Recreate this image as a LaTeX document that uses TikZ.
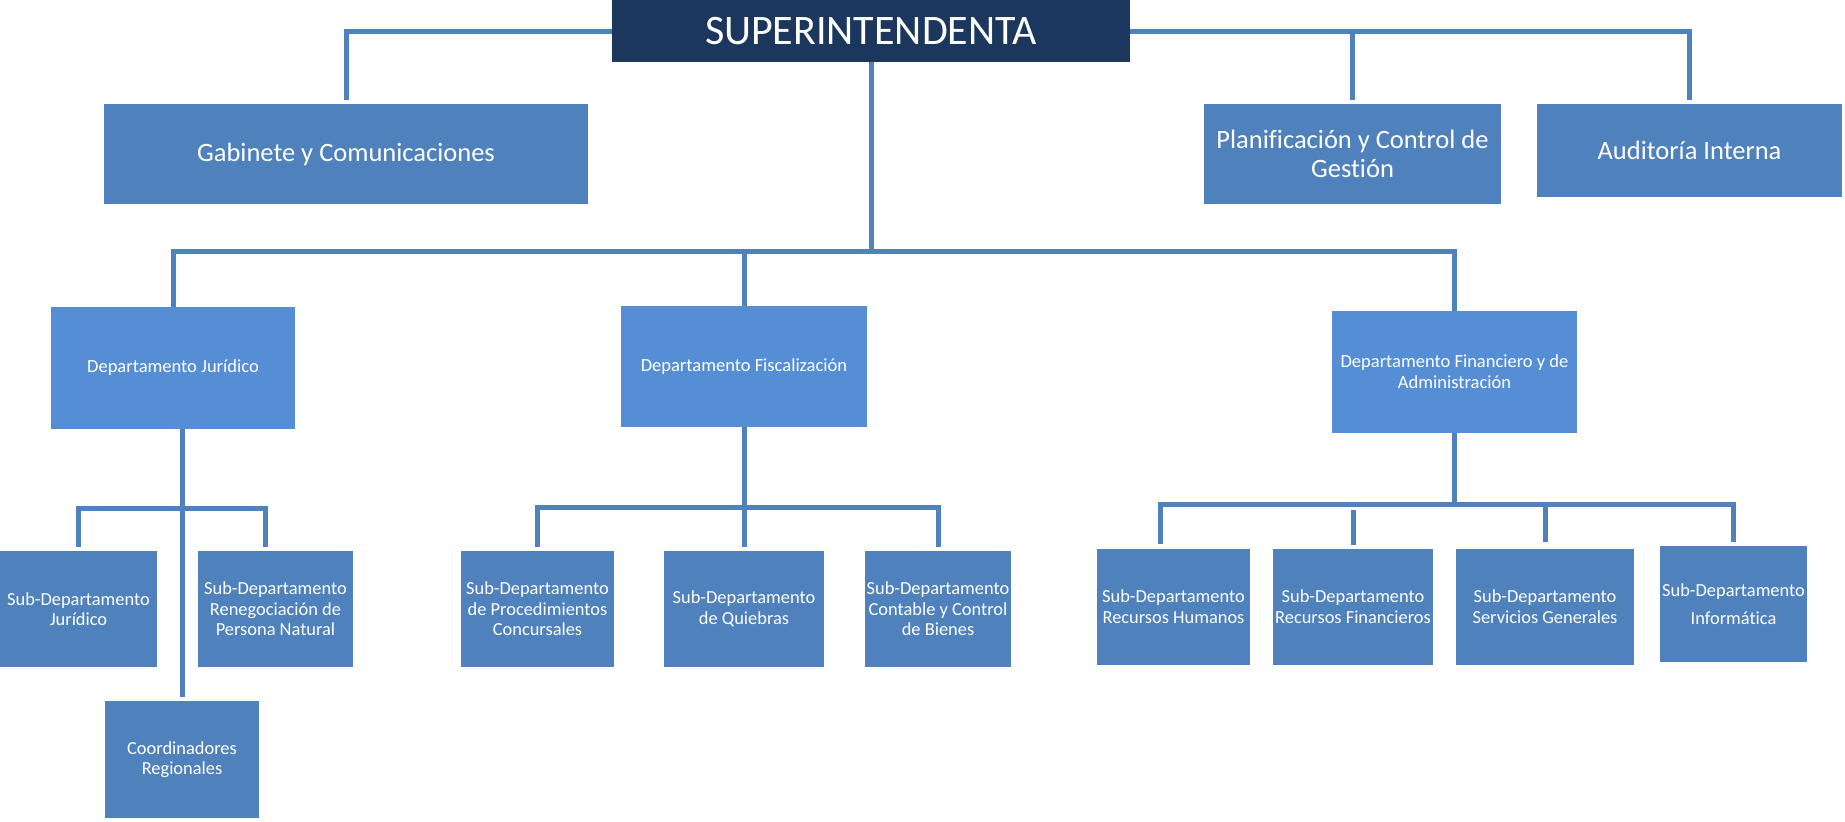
\documentclass[tikz,border=0pt]{standalone}
\usepackage{fontspec}
\setmainfont{Carlito}[Ligatures=CommonOff]
\usetikzlibrary{calc}
\definecolor{navy}{RGB}{27,55,94}
\definecolor{unitblue}{RGB}{79,129,189}
\definecolor{deptblue}{RGB}{85,142,213}

\begin{document}
\begin{tikzpicture}[x=1pt,y=-1pt,
  unit/.style={rectangle,fill=unitblue,text=white,align=center,inner sep=0pt},
  head/.style={unit,fill=navy,font=\fontsize{42}{50}\selectfont},
  staff/.style={unit,font=\fontsize{26.5}{29.5}\selectfont},
  dept/.style={unit,fill=deptblue,font=\fontsize{18.5}{21}\selectfont},
  subunit/.style={unit,minimum height=116,font=\fontsize{18.4}{20.5}\selectfont},
  link/.style={draw=unitblue,line width=5pt}]

\useasboundingbox (0,0) rectangle (1845,822);

\node[head,minimum width=518,minimum height=62] (sup) at (871,31) {SUPERINTENDENTA};

\node[staff,minimum width=484,minimum height=100] (gab) at (346,154) {Gabinete y Comunicaciones};
\node[staff,minimum width=297,minimum height=100] (plan) at (1352.5,154) {Planificación y Control de\\Gestión};
\node[staff,minimum width=305,minimum height=93] (aud) at (1689.5,150.5) {Auditoría Interna};

\node[dept,minimum width=244,minimum height=122] (jur) at (173,368) {Departamento Jurídico};
\node[dept,minimum width=246,minimum height=121] (fisc) at (744,366.5) {Departamento Fiscalización};
\node[dept,minimum width=245,minimum height=122] (fin) at (1454.5,372) {Departamento Financiero y de\\Administración};

\node[subunit,minimum width=157] (sjur) at (78.5,609) {Sub-Departamento\\Jurídico};
\node[subunit,minimum width=155] (reneg) at (275.5,609) {Sub-Departamento\\Renegociación de\\Persona Natural};
\node[subunit,minimum width=154,minimum height=117] (coord) at (182,759.5) {Coordinadores\\Regionales};

\node[subunit,minimum width=153] (proc) at (537.5,609) {Sub-Departamento\\de Procedimientos\\Concursales};
\node[subunit,minimum width=160] (quie) at (744,609) {Sub-Departamento\\de Quiebras};
\node[subunit,minimum width=146] (cont) at (938,609) {Sub-Departamento\\Contable y Control\\de Bienes};

\node[subunit,minimum width=153] (rrhh) at (1173.5,606.5) {Sub-Departamento\\Recursos Humanos};
\node[subunit,minimum width=160] (rfin) at (1353,606.5) {Sub-Departamento\\Recursos Financieros};
\node[subunit,minimum width=178] (sgen) at (1545,606.5) {Sub-Departamento\\Servicios Generales};
\node[subunit,minimum width=147] (info) at (1733.5,604) {Sub-Departamento\\[8pt]Informática};

\coordinate (rowd) at (0,251);
\coordinate (rowj) at (0,508);
\coordinate (rowf) at (0,507);
\coordinate (rowq) at (0,504);

\draw[link] (sup.west) -| ([yshift=4]gab.north);
\draw[link] (sup.east) -| ([yshift=4]aud.north);
\draw[link] (sup.east -| plan.north) -- ([yshift=4]plan.north);
\draw[link] (sup.south) -- (sup.south |- rowd);
\draw[link] (jur.north) |- (rowd -| fin.north) -- (fin.north);
\draw[link] (fisc.north) -- (fisc.north |- rowd);

\draw[link] (jur.south -| coord.north) -- ([yshift=4]coord.north);
\draw[link] ([yshift=4]sjur.north) |- ($(reneg.north |- rowj)+(-10,0)$) -- ([xshift=-10,yshift=4]reneg.north);

\draw[link] (fisc.south) -- ([yshift=4]quie.north);
\draw[link] ([yshift=4]proc.north) |- (cont.north |- rowf) -- ([yshift=4]cont.north);

\draw[link] (fin.south) -- (fin.south |- rowq);
\draw[link] ([xshift=-13,yshift=4]rrhh.north) |- (info.north |- rowq) -- ([yshift=4]info.north);
\draw[link] ([yshift=38]rfin.north) -- ([yshift=3]rfin.north);
\draw[link] (sgen.north |- rowq) -- ([yshift=6]sgen.north);

\end{tikzpicture}
\end{document}
